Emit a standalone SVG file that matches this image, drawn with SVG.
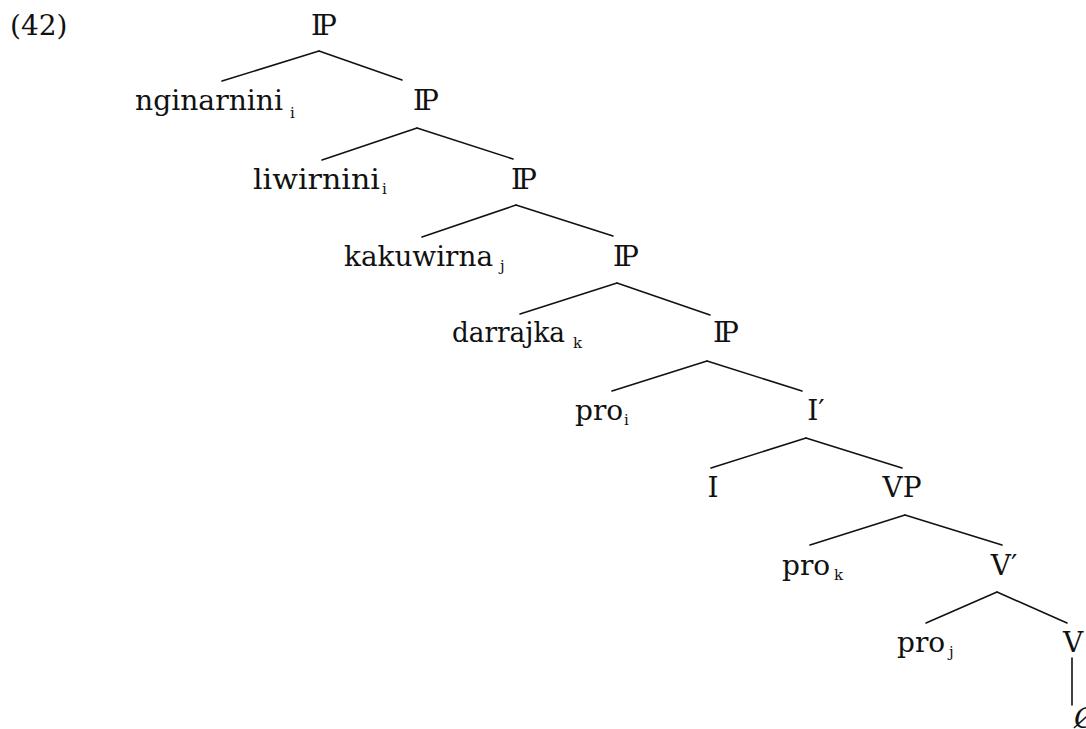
<svg xmlns="http://www.w3.org/2000/svg" width="1086" height="729" viewBox="0 0 1086 729">
<style>
text{font-family:"DejaVu Serif","Liberation Serif",serif;font-size:28px;fill:#111}
.c{text-anchor:middle}
.s{font-size:15px}
.ip{letter-spacing:-4px}
#edges line{stroke:#111;stroke-width:1.6;stroke-linecap:round}
</style>
<rect width="1086" height="729" fill="#fff"/>
<text x="10" y="35">(42)</text>
<g id="edges">
<line x1="319" y1="51" x2="222" y2="81"/><line x1="319" y1="51" x2="402" y2="80"/>
<line x1="417" y1="128" x2="322" y2="160"/><line x1="417" y1="128" x2="513" y2="159"/>
<line x1="516" y1="205" x2="422" y2="237"/><line x1="516" y1="205" x2="613" y2="236"/>
<line x1="617" y1="283" x2="520" y2="314"/><line x1="617" y1="283" x2="710" y2="315"/>
<line x1="707" y1="361" x2="612" y2="391"/><line x1="707" y1="361" x2="802" y2="391"/>
<line x1="806" y1="438" x2="711" y2="468"/><line x1="806" y1="438" x2="902" y2="468"/>
<line x1="905" y1="515" x2="810" y2="545"/><line x1="905" y1="515" x2="1002" y2="545"/>
<line x1="997" y1="592" x2="926" y2="623"/><line x1="997" y1="592" x2="1067" y2="623"/>
<line x1="1072" y1="658" x2="1072" y2="705"/>
</g>
<g id="ip1"><text class="c ip" x="322" y="35">IP</text></g>
<g id="ngin"><text x="135" y="110" textLength="148" lengthAdjust="spacingAndGlyphs">nginarnini</text><text class="s" x="290" y="118">i</text></g>
<g id="ip2"><text class="c ip" x="424" y="110">IP</text></g>
<g id="liwi"><text x="253" y="189" textLength="127" lengthAdjust="spacingAndGlyphs">liwirnini</text><text class="s" x="382" y="194">i</text></g>
<g id="ip3"><text class="c ip" x="522" y="189">IP</text></g>
<g id="kaku"><text x="344" y="266" textLength="149" lengthAdjust="spacingAndGlyphs">kakuwirna</text><text class="s" x="500" y="271">j</text></g>
<g id="ip4"><text class="c ip" x="624" y="266">IP</text></g>
<g id="darr"><text x="452" y="342" textLength="113" lengthAdjust="spacingAndGlyphs">darrajka</text><text class="s" x="573" y="348">k</text></g>
<g id="ip5"><text class="c ip" x="724" y="342">IP</text></g>
<g id="proi"><text x="575" y="420">pro</text><text class="s" x="624" y="425">i</text></g>
<g id="ibar"><text class="c" x="816" y="420">I′</text></g>
<g id="i"><text class="c" x="713" y="497">I</text></g>
<g id="vp"><text class="c" x="902" y="497">VP</text></g>
<g id="prok"><text x="782" y="575">pro</text><text class="s" x="834" y="580">k</text></g>
<g id="vbar"><text class="c" x="1004" y="575">V′</text></g>
<g id="proj"><text x="897" y="652">pro</text><text class="s" x="949" y="657">j</text></g>
<g id="v"><text class="c" x="1073" y="652">V</text></g>
<g id="empty"><text x="1074" y="728" font-style="italic">Ø</text></g>
</svg>
